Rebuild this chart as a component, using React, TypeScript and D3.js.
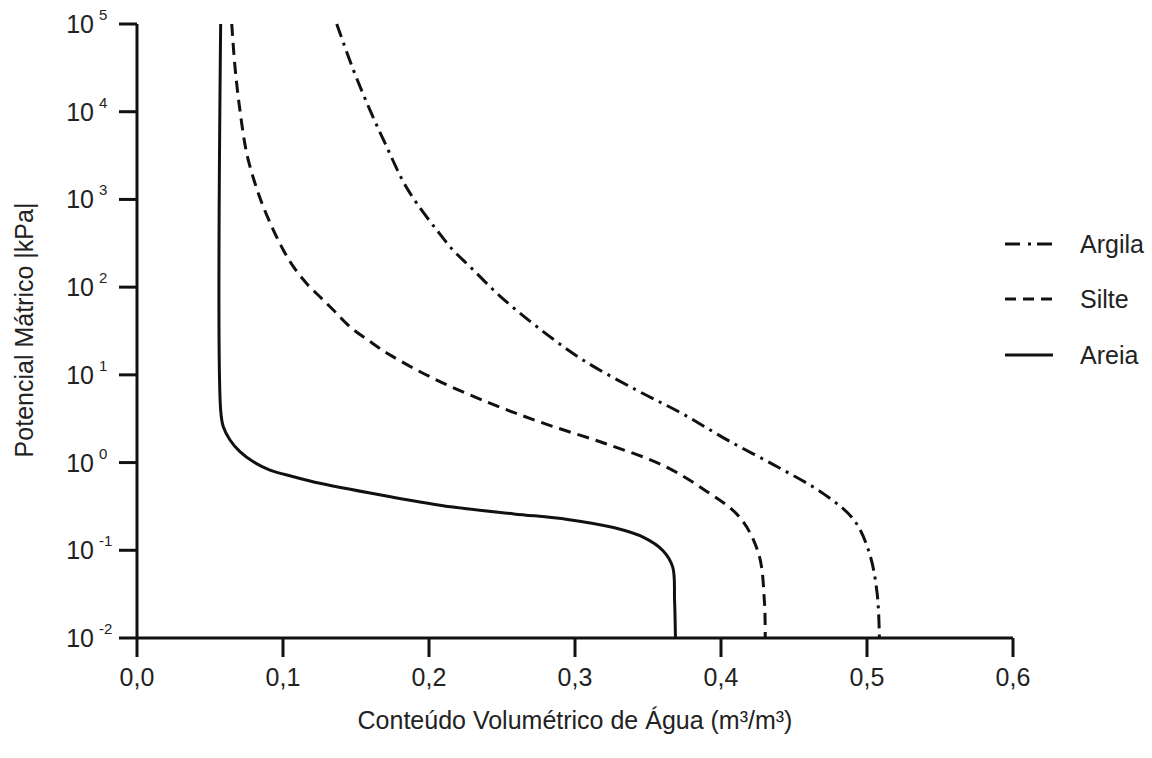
import React from "react";
import * as d3 from "d3";

// Volumetric water content (m³/m³) vs matric potential |kPa|
const areiaTheta = [0.0573, 0.0573, 0.0591, 0.0637, 0.0705, 0.0797, 0.0911, 0.1071, 0.1253, 0.1745, 0.2164, 0.2582, 0.2949, 0.3264, 0.3473, 0.3603, 0.3669, 0.3682, 0.3688];
const areiaPsi = [100000, 3.97, 2.56, 1.81, 1.33, 1.02, 0.82, 0.69, 0.58, 0.405, 0.311, 0.26, 0.225, 0.1815, 0.1396, 0.099, 0.0646, 0.0266, 0.01];

const silteTheta = [0.0649, 0.0671, 0.0705, 0.0751, 0.0808, 0.0865, 0.0934, 0.1002, 0.1071, 0.1162, 0.1253, 0.1345, 0.1459, 0.1596, 0.1735, 0.2033, 0.2425, 0.2792, 0.3211, 0.3603, 0.3892, 0.4127, 0.4258, 0.4297, 0.4303];
const siltePsi = [100000, 32600, 10400, 3380, 1530, 826, 448, 265, 171, 110, 77.6, 54.8, 35.3, 24.0, 16.8, 9.06, 4.7, 2.78, 1.64, 0.93, 0.481, 0.239, 0.091, 0.0266, 0.01];

const argilaTheta = [0.1368, 0.1482, 0.1596, 0.171, 0.1824, 0.1916, 0.2053, 0.2164, 0.2281, 0.2486, 0.274, 0.3054, 0.3421, 0.3735, 0.4048, 0.4389, 0.4703, 0.4913, 0.5018, 0.507, 0.5085];
const argilaPsi = [100000, 29900, 10400, 3990, 1590, 904, 448, 265, 171, 79.2, 35.3, 14.8, 6.71, 3.61, 1.79, 0.89, 0.44, 0.219, 0.091, 0.0317, 0.01];

const xTicks = [0, 0.1, 0.2, 0.3, 0.4, 0.5, 0.6];
const xTickLabels = ["0,0", "0,1", "0,2", "0,3", "0,4", "0,5", "0,6"];
const yTicks = [0.01, 0.1, 1, 10, 100, 1000, 10000, 100000];
const yTickExps = ["-2", "-1", "0", "1", "2", "3", "4", "5"];

const seriesNames = ["Argila", "Silte", "Areia"];
const seriesDash = ["14,6,3,6", "12,7", "none"];

const FONT = "'Liberation Sans', Arial, sans-serif";

export default function App() {
  const x = d3.scaleLinear().domain([0, 0.6]).range([137, 1013]);
  const y = d3.scaleLog().domain([0.01, 100000]).range([638, 24]);

  const line = d3
    .line<[number, number]>()
    .x((d) => x(d[0]))
    .y((d) => y(d[1]))
    .curve(d3.curveCatmullRom.alpha(0.5));

  const series = [
    { name: "Argila", pts: argilaTheta.map((t, i) => [t, argilaPsi[i]] as [number, number]) },
    { name: "Silte", pts: silteTheta.map((t, i) => [t, siltePsi[i]] as [number, number]) },
    { name: "Areia", pts: areiaTheta.map((t, i) => [t, areiaPsi[i]] as [number, number]) },
  ];

  const legendY = [244, 299, 355];

  return (
    <svg width={1152} height={758} style={{ position: "absolute", left: 0, top: 0, background: "#fff" }} fontFamily={FONT}>
      <rect width={1152} height={758} fill="#fff" />
      {series.map((s, i) => (
        <path
          key={s.name}
          d={line(s.pts) || ""}
          fill="none"
          stroke="#111"
          strokeWidth={3}
          strokeDasharray={seriesDash[i]}
        />
      ))}
      <line x1={x(0)} x2={x(0)} y1={y(100000)} y2={y(0.01)} stroke="#111" strokeWidth={3} />
      <line x1={x(0)} x2={x(0.6)} y1={y(0.01)} y2={y(0.01)} stroke="#111" strokeWidth={3} />
      {yTicks.map((t, i) => (
        <g key={"y" + i}>
          <line x1={x(0) - 18} x2={x(0)} y1={y(t)} y2={y(t)} stroke="#111" strokeWidth={3} />
          <text x={94} y={y(t) + 9} fontSize={25} textAnchor="end" fill="#222">10</text>
          <text x={99} y={y(t) - 4} fontSize={15} fill="#222">{yTickExps[i]}</text>
        </g>
      ))}
      {xTicks.map((t, i) => (
        <g key={"x" + i}>
          <line x1={x(t)} x2={x(t)} y1={y(0.01)} y2={y(0.01) + 19} stroke="#111" strokeWidth={3} />
          <text x={x(t)} y={686} fontSize={25} textAnchor="middle" fill="#222">{xTickLabels[i]}</text>
        </g>
      ))}
      <text x={575} y={729} fontSize={25} textAnchor="middle" fill="#222">Conteúdo Volumétrico de Água (m³/m³)</text>
      <text transform={`translate(33, 330) rotate(-90)`} fontSize={25} textAnchor="middle" fill="#222">Potencial Mátrico |kPa|</text>
      {seriesNames.map((n, i) => (
        <g key={"l" + i}>
          <line x1={1005} x2={1053} y1={legendY[i]} y2={legendY[i]} stroke="#111" strokeWidth={3} strokeDasharray={i === 0 ? "15,8,3,6" : i === 1 ? "11,7" : "none"} />
          <text x={1080} y={legendY[i] + 9} fontSize={25} fill="#222">{n}</text>
        </g>
      ))}
    </svg>
  );
}
